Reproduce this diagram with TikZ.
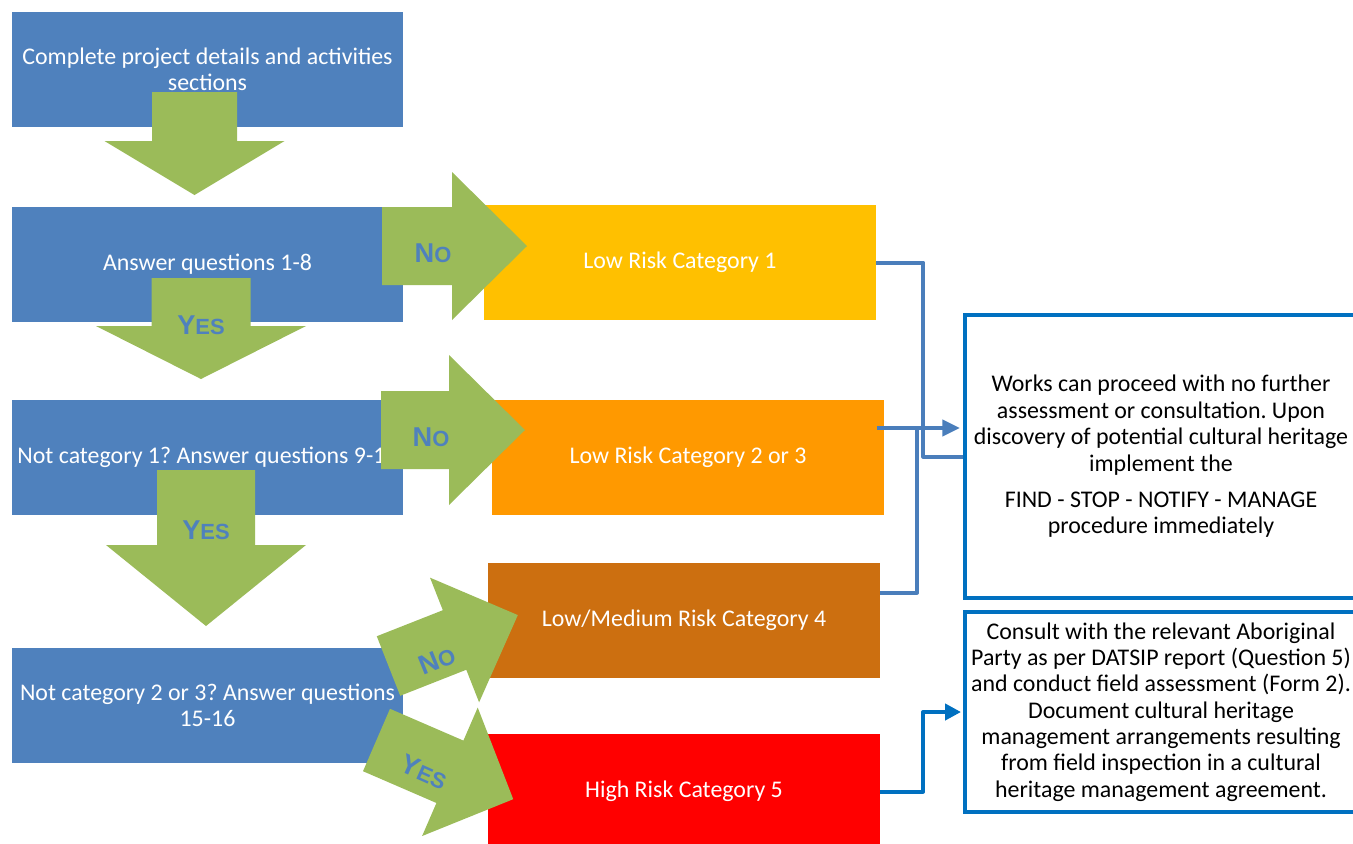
\documentclass[tikz,border=0pt]{standalone}
\usepackage{fontspec}
\setmainfont{Carlito}
\newfontfamily\labelfont{Liberation Sans}
\usepackage{tikz}
\usetikzlibrary{shapes,arrows.meta,positioning,calc}
\frenchspacing

\definecolor{boxblue}{HTML}{4F81BD}
\definecolor{arrowgreen}{HTML}{9BBB59}
\definecolor{riskyellow}{HTML}{FFC000}
\definecolor{riskorange}{HTML}{FF9900}
\definecolor{riskbrown}{HTML}{CC6F10}
\definecolor{riskred}{HTML}{FF0000}
\definecolor{outline}{HTML}{0070C0}
\definecolor{linkblue}{HTML}{4A7EBB}

% big first letter, smaller rest
\newcommand{\capword}[2]{{\fontsize{15.5}{16}\selectfont #1}{\fontsize{12.5}{13}\selectfont #2}}

\begin{document}
\begin{tikzpicture}[x=0.02cm, y=-0.02cm,
	every node/.style={font=\fontsize{13.6}{15}\selectfont},
	stepbox/.style={fill=boxblue, text=white, minimum width=7.82cm, minimum height=2.3cm, inner sep=0pt, align=center},
	riskbox/.style={text=white, minimum width=7.84cm, minimum height=2.3cm, inner sep=0pt},
	outbox/.style={draw=outline, line width=0.08cm, fill=white, minimum width=7.84cm, inner sep=0pt, align=center},
	answer/.style={text=boxblue, font=\labelfont\bfseries, inner sep=0pt},
	link/.style={draw=linkblue, line width=0.08cm, line join=round},
	outlink/.style={draw=outline, line width=0.08cm, line join=round}]
			\clip (0,0) rectangle (1353,843);
			
			% Question steps
			\node[stepbox] (details) at (207.5,69.5) {Complete project details and activities\\ sections};
			\node[stepbox] (qone) at (207.5,264.5) {Answer questions 1-8};
			\node[stepbox] (qtwo) at (207.5,457.5) {Not category 1? Answer questions 9-14};
			\node[stepbox] (qthree) at (207.5,705.5) {Not category 2 or 3? Answer questions\\ 15-16};
			
			% Risk categories
			\node[riskbox, fill=riskyellow] (catone) at (680,262.5) {Low Risk Category 1};
			\node[riskbox, fill=riskorange] (cattwo) at (688,457.5) {Low Risk Category 2 or 3};
			\node[riskbox, fill=riskbrown] (catfour) at (684,620.5) {Low/Medium Risk Category 4};
			\node[riskbox, fill=riskred] (catfive) at (684,791.5) {High Risk Category 5};
			
			% Outcomes
			\node[outbox, minimum height=5.66cm] (proceed) at (1161,456.5) {Works can proceed with no further\\ assessment or consultation. Upon\\ discovery of potential cultural heritage\\ implement the\\[5.7pt] FIND - STOP - NOTIFY - MANAGE\\ procedure immediately};
			\node[outbox, minimum height=4cm] (consult) at (1161,712) {Consult with the relevant Aboriginal\\ Party as per DATSIP report (Question 5)\\ and conduct field assessment (Form 2).\\ Document cultural heritage\\ management arrangements resulting\\ from field inspection in a cultural\\ heritage management agreement.};
			
			% Connectors
			\draw[link] (catone.east) -- ++(47,0) |- (proceed.west);
			\coordinate (jtwo) at ($(cattwo.east)+(-7,-29.5)$);
			\coordinate (jmerge) at (917,428);
			\draw[link, -{Triangle[length=10pt, width=9pt]}] (jtwo) -- ([xshift=-0.06cm]jtwo -| proceed.west);
			\draw[link] ($(catfour.east)+(0,-28)$) -| (jmerge);
			\draw[outlink, -{Triangle[length=9pt, width=9pt]}] (catfive.east) -- ++(43,0) |- ([xshift=-0.04cm]consult.west);
			
			% Green block arrows: tail x/tail y/angle/length/shaft/head/head length
			\foreach \x/\y/\r/\len/\sh/\hw/\hl in {194.5/92/-90/103/42.5/90/54, 201/278/-90/101/49.5/105/53, 206/470/-90/156/49/100/81, 382/246/0/145/39/74/75, 381/430/0/144/39/75/76, 388.5/666/21.5/139/32/67/68, 376.5/740/-23.4/149/34/70/69}
				\fill[arrowgreen, shift={(\x,\y)}, rotate=\r] (0,-\sh) -- (\len-\hl,-\sh) -- (\len-\hl,-\hw) -- (\len,0) -- (\len-\hl,\hw) -- (\len-\hl,\sh) -- (0,\sh) -- cycle;
			
			% Answers on the arrows
			\node[answer] (noone) at (433,253) {\capword{N}{O}};
			\node[answer] (notwo) at (431,437) {\capword{N}{O}};
			\node[answer, rotate=22] (nothree) at (437,660) {\capword{N}{O}};
			\node[answer] (yesone) at (201,325) {\capword{Y}{ES}};
			\node[answer] (yestwo) at (206,530) {\capword{Y}{ES}};
			\node[answer, rotate=-24] (yesthree) at (424,772) {\capword{Y}{ES}};
		\end{tikzpicture}
\end{document}
